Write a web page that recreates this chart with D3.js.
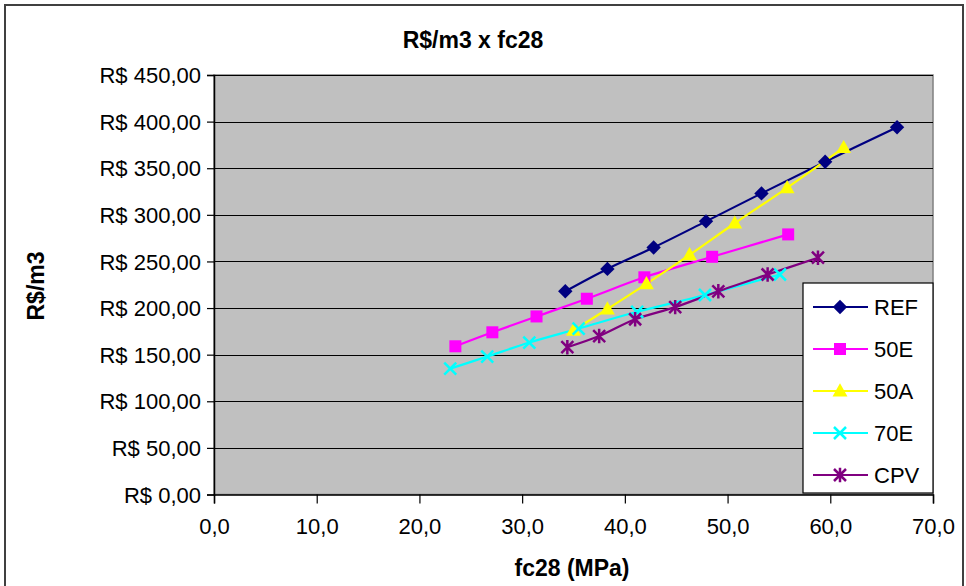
<!DOCTYPE html>
<html><head><meta charset="utf-8">
<script src="https://cdn.jsdelivr.net/npm/d3@7"></script>
<style>body{margin:0;background:#fff}svg{display:block;font-family:"Liberation Sans",Arial,sans-serif}</style>
</head><body>
<svg id="c" width="966" height="586"></svg>
<script>
const seriesNames = ["REF","50E","50A","70E","CPV"];
const refX = [34.2,38.3,42.8,47.9,53.3,59.5,66.5];
const refY = [218,242,265,293,323,357,394];
const e50X = [23.5,27.1,31.4,36.3,41.9,48.5,55.9];
const e50Y = [159,174,191,210,233,255,279];
const a50X = [35.0,38.3,42.1,46.3,50.7,55.8,61.3];
const a50Y = [176,199,226,257,291,329,372];
const e70X = [23.0,26.6,30.7,35.5,41.2,47.8,55.1];
const e70Y = [135,148,163,178,196,214,236];
const cpvX = [34.4,37.5,41.0,44.9,49.1,53.9,58.8];
const cpvY = [158,170,188,201,218,236,254];
const xTicks = [0,10,20,30,40,50,60,70];
const yTicks = [0,50,100,150,200,250,300,350,400,450];
const colors = ["#000080","#FF00FF","#FFFF00","#00FFFF","#800080"];
const symbols = ["diamond","square","triangle","x","star"];

const series = [
  {name:seriesNames[0], xs:refX, ys:refY},
  {name:seriesNames[1], xs:e50X, ys:e50Y},
  {name:seriesNames[2], xs:a50X, ys:a50Y},
  {name:seriesNames[3], xs:e70X, ys:e70Y},
  {name:seriesNames[4], xs:cpvX, ys:cpvY}
].map((s,i)=>({...s, color:colors[i], sym:symbols[i], pts:s.xs.map((x,j)=>[x,s.ys[j]])}));

const svg = d3.select("#c");
const L=214, R=933, T=75, B=494.5;
const x = d3.scaleLinear().domain([0,70]).range([L,R]);
const y = d3.scaleLinear().domain([0,450]).range([B,T]);

svg.append("path").attr("d","M5,600 V5 H963 V600").attr("fill","none").attr("stroke","#404040").attr("stroke-width",2);

svg.append("rect").attr("x",L).attr("y",T).attr("width",R-L).attr("height",B-T).attr("fill","#C0C0C0").attr("stroke","#808080").attr("stroke-width",1.5);

svg.append("g").selectAll("line").data(yTicks.filter(v=>v>0)).join("line")
  .attr("x1",L).attr("x2",R).attr("y1",d=>Math.round(y(d))+0.5).attr("y2",d=>Math.round(y(d))+0.5)
  .attr("stroke","#000").attr("stroke-width",1.2);

const fmtY = d => "R$ " + d3.format(".2f")(d).replace(".",",");
const fmtX = d => d3.format(".1f")(d).replace(".",",");
const gy = svg.append("g").attr("transform",`translate(${L},0)`)
  .call(d3.axisLeft(y).tickValues(yTicks).tickFormat(fmtY).tickSize(7).tickPadding(6));
const gx = svg.append("g").attr("transform",`translate(0,${B})`)
  .call(d3.axisBottom(x).tickValues(xTicks).tickFormat(fmtX).tickSize(9).tickPadding(15));
[gx,gy].forEach(g=>{
  g.select(".domain").attr("stroke","#000").attr("stroke-width",1.5);
  g.selectAll(".tick line").attr("stroke","#000").attr("stroke-width",1.2);
  g.selectAll("text").attr("font-size",22).attr("fill","#000").attr("font-family","Liberation Sans, Arial, sans-serif");
});
gy.selectAll("text").attr("dy","0.35em");

svg.append("text").attr("x",473).attr("y",48).attr("text-anchor","middle")
  .attr("font-weight","bold").attr("font-size",23).text("R$/m3 x fc28");
svg.append("text").attr("x",572).attr("y",576).attr("text-anchor","middle")
  .attr("font-weight","bold").attr("font-size",23).text("fc28 (MPa)");
svg.append("text").attr("transform","translate(44,286) rotate(-90)").attr("text-anchor","middle")
  .attr("font-weight","bold").attr("font-size",23).text("R$/m3");

function marker(g, sym, color, s){
  if(sym==="diamond") g.append("path").attr("d",`M0,${-s*0.6}L${s*0.6},0L0,${s*0.6}L${-s*0.6},0Z`).attr("fill",color);
  else if(sym==="square") g.append("rect").attr("x",-s/2).attr("y",-s/2).attr("width",s).attr("height",s).attr("fill",color);
  else if(sym==="triangle") g.append("path").attr("d",`M0,${-s*0.65}L${s*0.62},${s*0.45}L${-s*0.62},${s*0.45}Z`).attr("fill",color);
  else if(sym==="x") g.append("path").attr("d",`M${-s/2},${-s/2}L${s/2},${s/2}M${-s/2},${s/2}L${s/2},${-s/2}`).attr("stroke",color).attr("stroke-width",2.5).attr("fill","none");
  else if(sym==="star") g.append("path").attr("d",`M${-s/2},${-s/2}L${s/2},${s/2}M${-s/2},${s/2}L${s/2},${-s/2}M0,${-s*0.6}V${s*0.6}`).attr("stroke",color).attr("stroke-width",2.5).attr("fill","none");
}

const line = d3.line().x(d=>x(d[0])).y(d=>y(d[1])).curve(d3.curveCatmullRom.alpha(0.5));
const plot = svg.append("g");
series.forEach(s=>{
  plot.append("path").datum(s.pts).attr("d",line).attr("fill","none").attr("stroke",s.color).attr("stroke-width",2.2);
});
series.forEach(s=>{
  s.pts.forEach(p=>{
    const g = plot.append("g").attr("transform",`translate(${x(p[0])},${y(p[1])})`);
    marker(g, s.sym, s.color, 12);
  });
});

const lg = svg.append("g");
lg.append("rect").attr("x",803).attr("y",283).attr("width",130).attr("height",210).attr("fill","#fff").attr("stroke","#000").attr("stroke-width",1.2);
series.forEach((s,i)=>{
  const cy = 307 + i*42;
  lg.append("line").attr("x1",813).attr("x2",868).attr("y1",cy).attr("y2",cy).attr("stroke",s.color).attr("stroke-width",2.2);
  marker(lg.append("g").attr("transform",`translate(840,${cy})`), s.sym, s.color, 12);
  lg.append("text").attr("x",874).attr("y",cy).attr("dy","0.35em").attr("font-size",22).text(s.name);
});
</script>
</body></html>
